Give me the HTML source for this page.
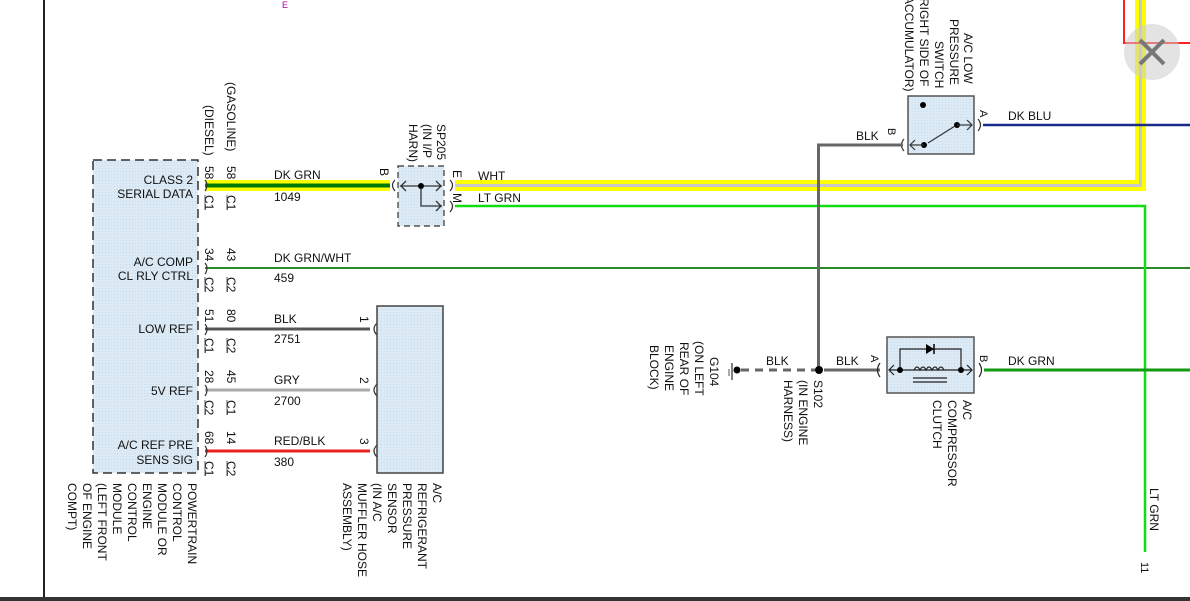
<!DOCTYPE html>
<html><head><style>
html,body{margin:0;padding:0;background:#fff;width:1190px;height:601px;overflow:hidden}
svg text{font-family:"Liberation Sans",Arial,sans-serif;font-size:12px;fill:#111}
</style></head><body>
<svg width="1190" height="601" viewBox="0 0 1190 601" xmlns="http://www.w3.org/2000/svg">
<defs>
<pattern id="dots" width="3" height="3" patternUnits="userSpaceOnUse"><rect width="3" height="3" fill="#dceaf5"/><rect width="1" height="1" fill="#c9dbe8"/></pattern>
</defs>
<!-- frame -->
<line x1="44" y1="0" x2="44" y2="597" stroke="#222" stroke-width="2"/>
<rect x="0" y="597" width="1190" height="4" fill="#333"/>
<text x="282" y="8" style="font-size:9px;fill:#a0a">E</text>

<!-- PCM box -->
<rect x="93" y="160" width="105" height="313" fill="url(#dots)" stroke="#333" stroke-width="1.5" stroke-dasharray="9,5"/>
<g text-anchor="end">
<text x="193" y="184">CLASS 2</text><text x="193" y="198">SERIAL DATA</text>
<text x="193" y="266">A/C COMP</text><text x="193" y="280">CL RLY CTRL</text>
<text x="193" y="333">LOW REF</text>
<text x="193" y="395">5V REF</text>
<text x="193" y="449">A/C REF PRE</text><text x="193" y="464">SENS SIG</text>
</g>
<g>
<text transform="translate(188,483) rotate(90)">POWERTRAIN</text>
<text transform="translate(173,483) rotate(90)">CONTROL</text>
<text transform="translate(158,483) rotate(90)">MODULE OR</text>
<text transform="translate(143,483) rotate(90)">ENGINE</text>
<text transform="translate(128,483) rotate(90)">CONTROL</text>
<text transform="translate(113,483) rotate(90)">MODULE</text>
<text transform="translate(98,483) rotate(90)">(LEFT FRONT</text>
<text transform="translate(83,483) rotate(90)">OF ENGINE</text>
<text transform="translate(68,483) rotate(90)">COMPT)</text>
</g>

<!-- top labels -->
<text transform="translate(205,105) rotate(90)">(DIESEL)</text>
<text transform="translate(227,82) rotate(90)">(GASOLINE)</text>

<!-- pin labels -->
<g style="font-size:11px">
<text transform="translate(205,166) rotate(90)">58</text><text transform="translate(227,166) rotate(90)">58</text>
<text transform="translate(205,195) rotate(90)">C1</text><text transform="translate(227,195) rotate(90)">C1</text>
<text transform="translate(205,248) rotate(90)">34</text><text transform="translate(227,248) rotate(90)">43</text>
<text transform="translate(205,277) rotate(90)">C2</text><text transform="translate(227,277) rotate(90)">C2</text>
<text transform="translate(205,309) rotate(90)">51</text><text transform="translate(227,309) rotate(90)">80</text>
<text transform="translate(205,338) rotate(90)">C1</text><text transform="translate(227,338) rotate(90)">C2</text>
<text transform="translate(205,370) rotate(90)">28</text><text transform="translate(227,370) rotate(90)">45</text>
<text transform="translate(205,400) rotate(90)">C2</text><text transform="translate(227,400) rotate(90)">C1</text>
<text transform="translate(205,431) rotate(90)">68</text><text transform="translate(227,431) rotate(90)">14</text>
<text transform="translate(205,461) rotate(90)">C1</text><text transform="translate(227,461) rotate(90)">C2</text>
</g>
<g stroke="#555" stroke-width="1">
<line x1="205" y1="195" x2="205" y2="210"/><line x1="227" y1="195" x2="227" y2="210"/>
<line x1="205" y1="277" x2="205" y2="292"/><line x1="227" y1="277" x2="227" y2="292"/>
<line x1="205" y1="338" x2="205" y2="353"/><line x1="227" y1="338" x2="227" y2="353"/>
<line x1="205" y1="400" x2="205" y2="415"/><line x1="227" y1="400" x2="227" y2="415"/>
<line x1="205" y1="461" x2="205" y2="476"/><line x1="227" y1="461" x2="227" y2="476"/>
</g>

<!-- wires left -->
<rect x="205" y="180" width="185" height="11" fill="#ffff00"/>
<rect x="205" y="183.5" width="185" height="4" fill="#007a00"/>
<line x1="205" y1="268" x2="1190" y2="268" stroke="#2a8a2a" stroke-width="2"/>
<line x1="205" y1="329" x2="370" y2="329" stroke="#555" stroke-width="3"/>
<line x1="205" y1="390" x2="370" y2="390" stroke="#aaa" stroke-width="3"/>
<line x1="205" y1="451" x2="370" y2="451" stroke="#e82020" stroke-width="3"/>
<g fill="none" stroke="#333" stroke-width="1.2">
<path d="M205,180 q4,5 0,11"/><path d="M205,263 q4,5 0,11"/><path d="M205,324 q4,5 0,11"/><path d="M205,385 q4,5 0,11"/><path d="M205,446 q4,5 0,11"/>
<path d="M377,323 q-6,6 0,12"/><path d="M377,384 q-6,6 0,12"/><path d="M377,445 q-6,6 0,12"/>
<path d="M395,180 q-5,5 0,11"/><path d="M450,180 q5,5 0,11"/><path d="M450,201 q5,5 0,11"/>
</g>
<g>
<text x="274" y="179">DK GRN</text><text x="274" y="201">1049</text>
<text x="274" y="262">DK GRN/WHT</text><text x="274" y="282">459</text>
<text x="274" y="323">BLK</text><text x="274" y="343">2751</text>
<text x="274" y="384">GRY</text><text x="274" y="405">2700</text>
<text x="274" y="445">RED/BLK</text><text x="274" y="466">380</text>
</g>
<g style="font-size:11px">
<text transform="translate(360,316) rotate(90)">1</text>
<text transform="translate(360,377) rotate(90)">2</text>
<text transform="translate(360,438) rotate(90)">3</text>
<text transform="translate(380,168) rotate(90)">B</text>
<text transform="translate(453,170) rotate(90)">E</text>
<text transform="translate(453,193) rotate(90)">M</text>
</g>

<!-- sensor box -->
<rect x="377" y="306" width="66" height="167" fill="url(#dots)" stroke="#444" stroke-width="1.5"/>
<text transform="translate(433,483) rotate(90)">A/C</text>
<text transform="translate(418,483) rotate(90)">REFRIGERANT</text>
<text transform="translate(403,483) rotate(90)">PRESSURE</text>
<text transform="translate(388,483) rotate(90)">SENSOR</text>
<text transform="translate(373,483) rotate(90)">(IN A/C</text>
<text transform="translate(358,483) rotate(90)">MUFFLER HOSE</text>
<text transform="translate(343,483) rotate(90)">ASSEMBLY)</text>

<!-- SP205 -->
<rect x="398" y="166" width="46" height="60" fill="url(#dots)" stroke="#333" stroke-width="1.2" stroke-dasharray="6,4"/>
<g stroke="#333" stroke-width="1.3" fill="none">
<line x1="400" y1="186" x2="442" y2="186"/><path d="M406,181 l-5,5 l5,5"/><path d="M436,181 l5,5 l-5,5"/>
<polyline points="421,186 421,206 442,206"/><path d="M436,201 l5,5 l-5,5"/>
</g>
<circle cx="421" cy="186" r="3" fill="#000"/>
<text transform="translate(437,124) rotate(90)">SP205</text>
<text transform="translate(423,124) rotate(90)">(IN I/P</text>
<text transform="translate(409,124) rotate(90)">HARN)</text>

<!-- WHT wire (yellow) -->
<path d="M455,185.5 H1140.5 V0" fill="none" stroke="#ffff00" stroke-width="11"/>
<path d="M455,185.5 H1140.5 V0" fill="none" stroke="#c8c8c8" stroke-width="3"/>
<text x="478" y="180">WHT</text>
<!-- LT GRN -->
<path d="M455,206 H1145 V552" fill="none" stroke="#11dd11" stroke-width="2.5"/>
<text x="478" y="202">LT GRN</text>
<text transform="translate(1150,488) rotate(90)">LT GRN</text>
<text transform="translate(1141,562) rotate(90)" style="font-size:11px">11</text>

<!-- red top right -->
<path d="M1124,0 V43 H1190" fill="none" stroke="#ff2020" stroke-width="2"/>

<!-- switch -->
<rect x="908" y="96" width="66" height="58" fill="url(#dots)" stroke="#555" stroke-width="1.5"/>
<circle cx="923" cy="105" r="3" fill="#000"/>
<circle cx="957" cy="125" r="3" fill="#000"/>
<circle cx="924" cy="145" r="3" fill="#000"/>
<g stroke="#333" stroke-width="1.2" fill="none">
<line x1="957" y1="125" x2="972" y2="125"/><path d="M967,120 l5,5 l-5,5"/>
<line x1="924" y1="145" x2="910" y2="145"/><path d="M915,140 l-5,5 l5,5"/>
<line x1="955" y1="126" x2="928" y2="143"/>
<path d="M978,119 q5,6 0,12"/><path d="M904,139 q-5,6 0,12"/>
</g>
<line x1="983" y1="125" x2="1190" y2="125" stroke="#1a2a8a" stroke-width="2.5"/>
<text x="1008" y="120">DK BLU</text>
<text transform="translate(980,110) rotate(90)" style="font-size:11px">A</text>
<text transform="translate(888,128) rotate(90)" style="font-size:11px">B</text>
<path d="M903,145 H818.5 V370" fill="none" stroke="#666" stroke-width="3"/>
<text x="856" y="140">BLK</text>
<text transform="translate(964,33) rotate(90)">A/C LOW</text>
<text transform="translate(950,19) rotate(90)">PRESSURE</text>
<text transform="translate(935,41) rotate(90)">SWITCH</text>
<text transform="translate(920,-6) rotate(90)">(RIGHT SIDE OF</text>
<text transform="translate(905,-8) rotate(90)">(ACCUMULATOR)</text>

<!-- ground & S102 -->
<line x1="729" y1="369" x2="729" y2="376" stroke="#555" stroke-width="1"/>
<line x1="732" y1="363" x2="732" y2="380" stroke="#555" stroke-width="1.5"/>
<circle cx="737" cy="370" r="3.5" fill="#000"/>
<line x1="741" y1="370" x2="815" y2="370" stroke="#666" stroke-width="3" stroke-dasharray="8,6"/>
<circle cx="819" cy="370" r="4" fill="#000"/>
<line x1="824" y1="370" x2="880" y2="370" stroke="#666" stroke-width="3"/>
<text x="766" y="365">BLK</text>
<text x="836" y="365">BLK</text>
<text transform="translate(710,357) rotate(90)">G104</text>
<text transform="translate(695,341) rotate(90)">(ON LEFT</text>
<text transform="translate(680,342) rotate(90)">REAR OF</text>
<text transform="translate(665,345) rotate(90)">ENGINE</text>
<text transform="translate(650,345) rotate(90)">BLOCK)</text>
<text transform="translate(814,380) rotate(90)">S102</text>
<text transform="translate(799,380) rotate(90)">(IN ENGINE</text>
<text transform="translate(784,380) rotate(90)">HARNESS)</text>

<!-- clutch -->
<rect x="887" y="337" width="87" height="56" fill="url(#dots)" stroke="#555" stroke-width="1.5"/>
<g stroke="#222" stroke-width="1.2" fill="none">
<polyline points="900,370 900,349 961,349 961,370"/>
<line x1="889" y1="370" x2="972" y2="370"/>
<path d="M894,365 l-5,5 l5,5"/><path d="M967,365 l5,5 l-5,5"/>
<path d="M914,370 q3,-6 6,0 q3,-6 6,0 q3,-6 6,0 q3,-6 6,0 q3,-6 6,0"/>
<line x1="913" y1="378" x2="947" y2="378"/><line x1="913" y1="382" x2="947" y2="382"/>
<path d="M880,363 q-5,7 0,14"/><path d="M979,363 q5,7 0,14"/>
</g>
<polygon points="926,344 934,349 926,354" fill="#000"/><line x1="934" y1="344" x2="934" y2="354" stroke="#000" stroke-width="1.5"/>
<circle cx="900" cy="370" r="3" fill="#000"/><circle cx="961" cy="370" r="3" fill="#000"/>
<line x1="984" y1="370" x2="1190" y2="370" stroke="#109a10" stroke-width="3"/>
<text x="1008" y="365">DK GRN</text>
<text transform="translate(871,355) rotate(90)" style="font-size:11px">A</text>
<text transform="translate(980,355) rotate(90)" style="font-size:11px">B</text>
<text transform="translate(963,400) rotate(90)">A/C</text>
<text transform="translate(948,400) rotate(90)">COMPRESSOR</text>
<text transform="translate(933,400) rotate(90)">CLUTCH</text>

<!-- close button -->
<circle cx="1152" cy="52" r="28" fill="#cccccc" fill-opacity="0.55"/>
<g stroke="#777" stroke-width="4"><line x1="1140" y1="40" x2="1164" y2="64"/><line x1="1164" y1="40" x2="1140" y2="64"/></g>
</svg>
</body></html>
